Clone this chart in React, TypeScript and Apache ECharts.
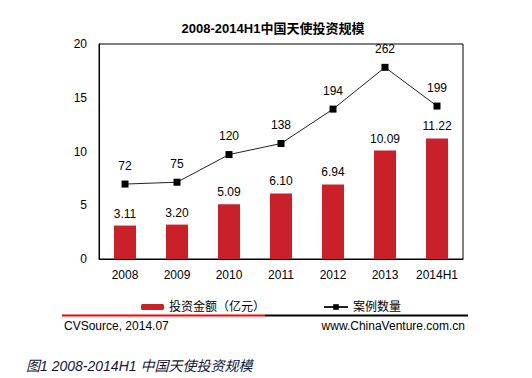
import React, { useEffect, useRef } from "react";
import * as echarts from "echarts";

const categories = ["2008", "2009", "2010", "2011", "2012", "2013", "2014H1"];
const amounts = [3.11, 3.2, 5.09, 6.1, 6.94, 10.09, 11.22];
const cases = [72, 75, 120, 138, 194, 262, 199];
const amountName = "投资金额（亿元）";
const caseName = "案例数量";
const title = "2008-2014H1中国天使投资规模";
const sourceLeft = "CVSource, 2014.07";
const sourceRight = "www.ChinaVenture.com.cn";
const caption = "图1 2008-2014H1 中国天使投资规模";

const SANS = "'Liberation Sans', Arial, 'Noto Sans CJK SC', sans-serif";

export default function App() {
  const ref = useRef<HTMLDivElement>(null);
  useEffect(() => {
    if (!ref.current) return;
    const chart = echarts.init(ref.current, null, { renderer: "svg" });
    chart.setOption({
      animation: false,
      backgroundColor: "#fff",
      textStyle: { fontFamily: SANS },
      title: {
        text: title,
        left: 268,
        top: 17,
        textAlign: "center",
        textStyle: { fontSize: 13, fontWeight: "bold", color: "#000", fontFamily: SANS },
      },
      grid: {
        left: 99,
        right: 69,
        top: 44,
        bottom: 119,
        show: true,
        borderColor: "#000",
        borderWidth: 1,
      },
      legend: [
        {
          data: [amountName],
          left: 136,
          top: 296,
          itemWidth: 23,
          itemHeight: 6,
          textStyle: { fontSize: 12, color: "#000", fontFamily: SANS },
        },
        {
          data: [caseName],
          left: 318,
          top: 296,
          itemWidth: 24,
          itemHeight: 7,
          textStyle: { fontSize: 12, color: "#000", fontFamily: SANS },
        },
      ],
      xAxis: {
        type: "category",
        data: categories,
        axisLine: { lineStyle: { color: "#000", width: 1 } },
        axisTick: { show: false },
        axisLabel: { fontSize: 12, color: "#000", margin: 10, interval: 0 },
      },
      yAxis: [
        {
          type: "value",
          min: 0,
          max: 20,
          interval: 5,
          axisLine: { show: true, lineStyle: { color: "#000" } },
          axisTick: { show: false },
          splitLine: { show: false },
          axisLabel: { fontSize: 12, color: "#000", margin: 12 },
        },
        {
          type: "value",
          min: -50,
          max: 300,
          show: false,
          splitLine: { show: false },
        },
      ],
      series: [
        {
          name: amountName,
          type: "bar",
          data: amounts,
          barWidth: 22,
          itemStyle: { color: "#c9202a" },
          label: {
            show: true,
            position: "top",
            distance: 6,
            fontSize: 12,
            color: "#000",
            formatter: (p: any) => Number(p.value).toFixed(2),
          },
        },
        {
          name: caseName,
          type: "line",
          yAxisIndex: 1,
          data: cases,
          symbol: "rect",
          symbolSize: 7,
          lineStyle: { color: "#222", width: 1 },
          itemStyle: { color: "#000" },
          label: {
            show: true,
            position: "top",
            distance: 9,
            fontSize: 12,
            color: "#000",
          },
        },
      ],
      graphic: [
        {
          type: "line",
          shape: { x1: 62, y1: 315.5, x2: 265, y2: 315.5 },
          style: { stroke: "#ff0000", lineWidth: 2 },
        },
        {
          type: "line",
          shape: { x1: 265, y1: 315.5, x2: 468, y2: 315.5 },
          style: { stroke: "#000", lineWidth: 2 },
        },
        {
          type: "text",
          left: 64,
          top: 320,
          style: { text: sourceLeft, fontSize: 12, fill: "#000", fontFamily: SANS },
        },
        {
          type: "text",
          right: 67,
          top: 320,
          style: { text: sourceRight, fontSize: 12, fill: "#000", fontFamily: SANS },
        },
        {
          type: "text",
          left: 26,
          top: 359,
          style: {
            text: caption,
            fontSize: 14,
            fontStyle: "italic",
            fill: "#14143a",
            fontFamily: SANS,
          },
        },
      ],
    });
    return () => chart.dispose();
  }, []);
  return <div ref={ref} style={{ width: 532, height: 378, position: "absolute", left: 0, top: 0 }} />;
}
